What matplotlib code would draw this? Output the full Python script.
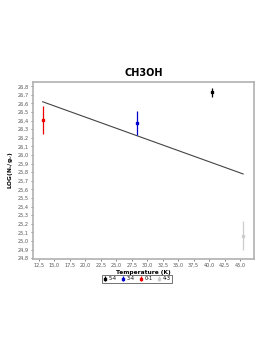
import matplotlib
matplotlib.use("Agg")
import matplotlib.pyplot as plt
import numpy as np

title = "CH3OH"
labels = ["5-4", "3-4", "0-1", "4-3"]
colors = ["#000000", "#0000cc", "#ee0000", "#cccccc"]
temps = [40.4, 28.4, 13.1, 45.5]
logn = [26.73, 26.37, 26.41, 25.06]
errs = [0.05, 0.14, 0.16, 0.17]
fit_x = [13.1, 45.5]
fit_y = [26.62, 25.78]
xticks = np.arange(12.5, 45.01, 2.5)
yticks = np.arange(24.8, 26.801, 0.1)

fig = plt.figure(figsize=(2.74, 3.55), dpi=100)
ax = fig.add_axes([0.1204, 0.2704, 0.8066, 0.4986])

ax.plot(fit_x, fit_y, color="#444444", lw=0.8, zorder=2)
for t, v, e, c, l in zip(temps, logn, errs, colors, labels):
    ax.errorbar([t], [v], yerr=[e], fmt="s", ms=1.5, color=c, ecolor=c,
                elinewidth=0.9, capsize=0, label=l, zorder=3)

ax.set_xlim(11.53, 47.26)
ax.set_ylim(24.79, 26.85)
ax.set_xticks(xticks)
ax.set_yticks(yticks)
ax.set_xticklabels([f"{v:.1f}".replace(".", ",") for v in xticks])
ax.set_yticklabels([f"{v:.1f}".replace(".", ",") for v in yticks])
ax.tick_params(labelsize=3.6, colors="#555555", length=1.5, width=0.5, pad=1.5)
for s in ax.spines.values():
    s.set_color("#b0b0b0")
    s.set_linewidth(1.2)

ax.set_title(title, fontsize=7, fontweight="bold", pad=4)
ax.set_xlabel("Temperature (K)", fontsize=4.2, fontweight="bold", labelpad=1.5)
ax.set_ylabel(r"LOG(N$_u$/g$_u$)", fontsize=4.2, fontweight="bold", labelpad=2)

leg = ax.legend(loc="upper center", bbox_to_anchor=(0.47, -0.075), ncol=4,
                fontsize=3.6, frameon=True, fancybox=False, handlelength=0.6,
                handletextpad=0.4, columnspacing=1.0, borderpad=0.3,
                markerscale=1.2)
leg.get_frame().set_edgecolor("#333333")
leg.get_frame().set_linewidth(0.6)

fig.savefig("out.png", dpi=100)
